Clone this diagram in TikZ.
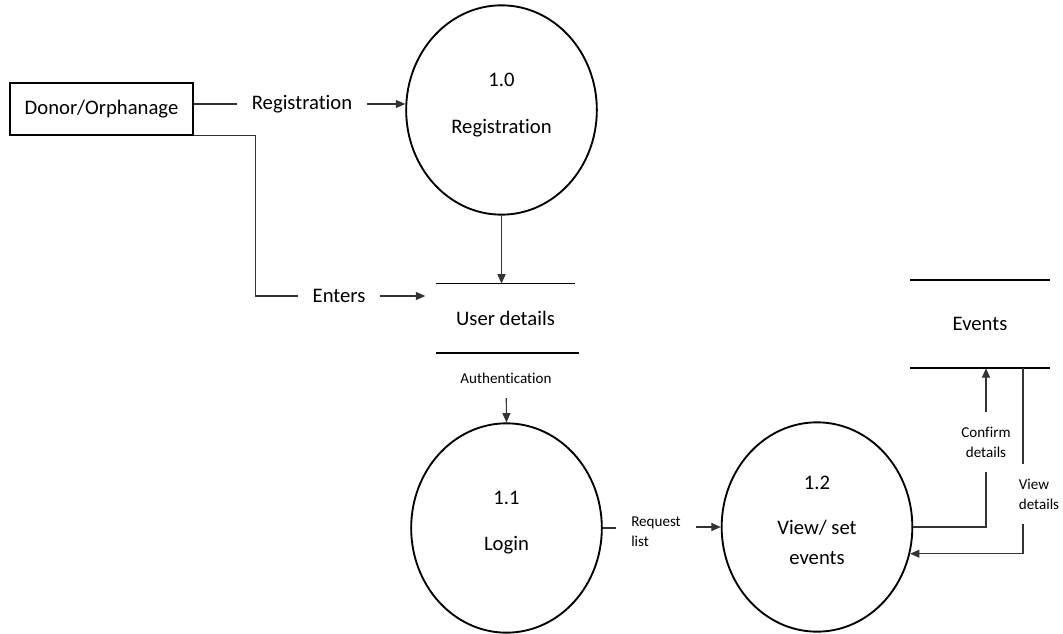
\documentclass[tikz,border=0pt]{standalone}
\usepackage{fontspec}
\setmainfont{Carlito}[Ligatures=NoCommon]
\usetikzlibrary{shapes.geometric,arrows.meta}

\begin{document}
\begin{tikzpicture}[x=0.75pt,y=-0.75pt,
    every node/.style={font=\fontsize{15.5}{18.6}\selectfont},
    entity/.style={draw,line width=1.4pt,minimum width=137pt,minimum height=39pt},
    process/.style={draw,ellipse,line width=1.4pt,align=center,text depth=10.5pt,minimum width=143pt,minimum height=157pt},
    store/.style={minimum width=104pt,minimum height=52pt},
    flowlabel/.style={inner sep=11pt,align=left},
    smalllabel/.style={flowlabel,font=\fontsize{11.3}{15}\selectfont},
    flow/.style={draw=black!80,line width=0.8pt},
    flowarrow/.style={flow,-{Triangle[length=7pt,width=6pt]}}]
    \useasboundingbox (0,0) rectangle (1063,634);

    \node[entity] (donor) at (101.5,109) {Donor/Orphanage};
    \node[process] (p10) at (501.5,110) {1.0\\[16.6pt]Registration};
    \node[process] (p11) at (506.5,528) {1.1\\[15.5pt]Login};
    \node[process] (p12) at (817,527) {1.2\\[15pt]View/ set\\[4pt]events};

    \node[store] (users) at (505.5,318.5) {User details};
    \node[store,minimum height=66pt] (events) at (980,324) {Events};
    \draw[line width=1.4pt] (users.north west) -- (users.north east);
    \draw[line width=1.4pt] (users.south west) -- ([xshift=3pt]users.south east);
    \draw[line width=1.4pt] (events.north west) -- (events.north east);
    \draw[line width=1.4pt] (events.south west) -- (events.south east);

    \node[flowlabel] (lreg) at (302,104) {Registration};
    \node[flowlabel] (lenters) at (339,296) {Enters};
    \node[smalllabel] (lauth) at (506,378) {Authentication};
    \node[smalllabel] (lreq) at (656,532) {Request\\list};
    \node[smalllabel,align=center] (lconf) at (986,442) {Confirm\\details};
    \node[smalllabel] (lview) at (1039,494) {View\\details};
    \coordinate (viewx) at (1023,368);

    % registration flow
    \draw[flow] (donor.east |- lreg) -- (lreg);
    \draw[flowarrow] (lreg.east) -- (p10.west |- lreg.east);
    \draw[flowarrow] (p10.south) -- (p10.south |- users.north);

    % entering user details
    \draw[flow] (donor.south east) -- ++(62,0) |- (lenters);
    \draw[flowarrow] (lenters.east) -- ([xshift=-8pt]lenters.east -| users.west);

    % login and events
    \draw[flowarrow] (lauth) -- (p11.north);
    \draw[flow] (p11.east) -- (p11.east -| lreq.west);
    \draw[flowarrow] (lreq.east |- p12.west) -- (p12.west);
    \draw[flow] (p12.east) -| (lconf.south);
    \draw[flowarrow] (lconf.north) -- (lconf.north |- events.south);
    \draw[flow] (viewx) -- (viewx |- lview.north);
    \draw[flowarrow] (viewx |- lview.south) |- (p12.-16);

\end{tikzpicture}
\end{document}
